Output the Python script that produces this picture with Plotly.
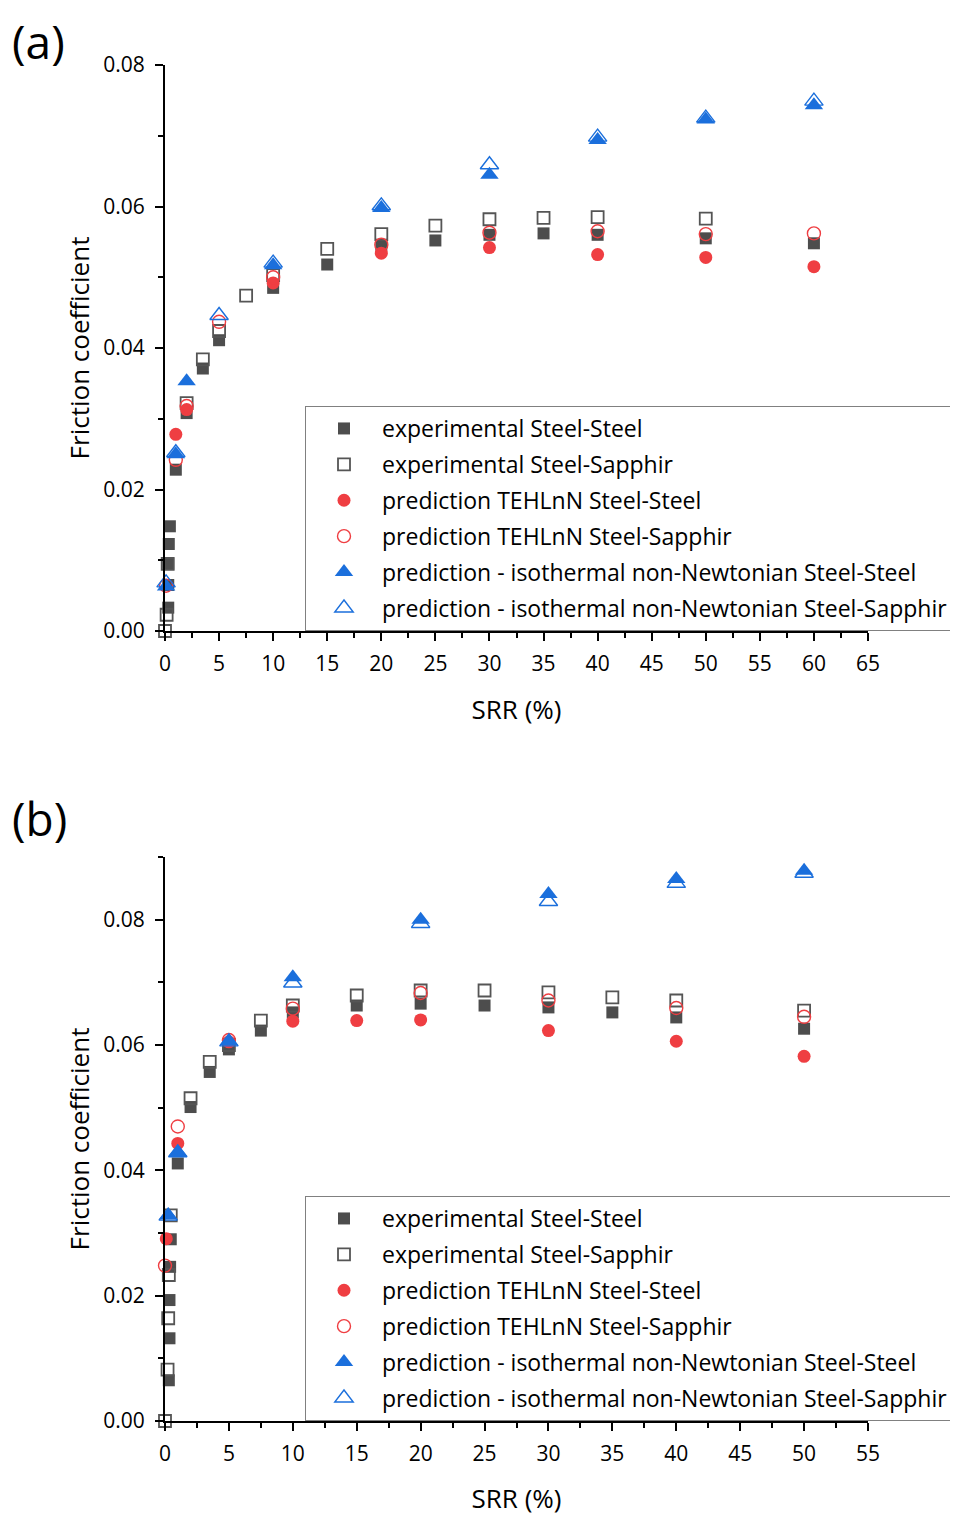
import plotly.graph_objects as go

# ---------------- Panel (a) data ----------------
a_ss_exp_x = [0.3, 0.3, 0.3, 0.35, 0.45, 1, 2, 3.5, 5, 10, 15, 20, 25, 30, 35, 40, 50, 60]
a_ss_exp_y = [0.0033, 0.0065, 0.0095, 0.0123, 0.0148, 0.0228, 0.0308, 0.0371, 0.0411, 0.0485,
              0.0518, 0.0546, 0.0552, 0.0560, 0.0562, 0.0560, 0.0555, 0.0548]
a_sa_exp_x = [0, 0.15, 0.25, 2, 3.5, 5, 7.5, 10, 15, 20, 25, 30, 35, 40, 50]
a_sa_exp_y = [0.0, 0.0023, 0.0095, 0.0322, 0.0384, 0.0424, 0.0474, 0.0503, 0.0540, 0.0561,
              0.0573, 0.0582, 0.0584, 0.0585, 0.0583]
a_ss_teh_x = [1, 2, 10, 20, 30, 40, 50, 60]
a_ss_teh_y = [0.0278, 0.0313, 0.0492, 0.0534, 0.0542, 0.0532, 0.0528, 0.0515]
a_sa_teh_x = [0.1, 1, 2, 5, 10, 20, 30, 40, 50, 60]
a_sa_teh_y = [0.0064, 0.0242, 0.0318, 0.0437, 0.0500, 0.0546, 0.0563, 0.0565, 0.0561, 0.0562]
a_ss_iso_x = [0.1, 1, 2, 10, 20, 30, 40, 50, 60]
a_ss_iso_y = [0.0063, 0.0250, 0.0353, 0.0517, 0.0598, 0.0645, 0.0694, 0.0723, 0.0743]
a_sa_iso_x = [0.1, 1, 5, 10, 20, 30, 40, 50, 60]
a_sa_iso_y = [0.0068, 0.0252, 0.0446, 0.0520, 0.0601, 0.0659, 0.0698, 0.0725, 0.0749]

# ---------------- Panel (b) data ----------------
b_ss_exp_x = [0.3, 0.35, 0.35, 0.4, 0.45, 1, 2, 3.5, 5, 7.5, 10, 15, 20, 25, 30, 35, 40, 50]
b_ss_exp_y = [0.0065, 0.0132, 0.0193, 0.0246, 0.0290, 0.0411, 0.0501, 0.0557, 0.0593, 0.0623,
              0.0652, 0.0663, 0.0666, 0.0663, 0.0660, 0.0652, 0.0644, 0.0626]
b_sa_exp_x = [0, 0.2, 0.25, 0.3, 0.45, 2, 3.5, 5, 7.5, 10, 15, 20, 25, 30, 35, 40, 50]
b_sa_exp_y = [0.0, 0.0082, 0.0164, 0.0233, 0.0328, 0.0515, 0.0573, 0.0600, 0.0639, 0.0663,
              0.0679, 0.0687, 0.0687, 0.0684, 0.0676, 0.0671, 0.0655]
b_ss_teh_x = [0.1, 1, 5, 10, 15, 20, 30, 40, 50]
b_ss_teh_y = [0.0291, 0.0443, 0.0605, 0.0638, 0.0639, 0.0640, 0.0623, 0.0606, 0.0582]
b_sa_teh_x = [0, 1, 5, 10, 20, 30, 40, 50]
b_sa_teh_y = [0.0248, 0.0470, 0.0608, 0.0658, 0.0683, 0.0671, 0.0659, 0.0645]
b_ss_iso_x = [0.25, 1, 5, 10, 20, 30, 40, 50]
b_ss_iso_y = [0.0328, 0.0429, 0.0606, 0.0708, 0.0800, 0.0841, 0.0865, 0.0878]
b_sa_iso_x = [0.25, 1, 5, 10, 20, 30, 40, 50]
b_sa_iso_y = [0.0327, 0.0428, 0.0605, 0.0699, 0.0794, 0.0829, 0.0858, 0.0874]

names = ["experimental Steel-Steel", "experimental Steel-Sapphir",
         "prediction TEHLnN Steel-Steel", "prediction TEHLnN Steel-Sapphir",
         "prediction - isothermal non-Newtonian Steel-Steel",
         "prediction - isothermal non-Newtonian Steel-Sapphir"]

GRAY = "#4d4d4d"
GRAY_OPEN = "#555555"
RED = "#EF3E42"
BLUE = "#1B6FDC"

styles = [
    dict(symbol="square", size=12, color=GRAY, line=dict(width=0)),
    dict(symbol="square-open", size=12, color=GRAY_OPEN, line=dict(width=1.8)),
    dict(symbol="circle", size=13, color=RED, line=dict(width=0)),
    dict(symbol="circle-open", size=13, color=RED, line=dict(width=1.4)),
    dict(symbol="triangle-up", size=16, color=BLUE, line=dict(width=0)),
    dict(symbol="triangle-up-open", size=16, color=BLUE, line=dict(width=1.4)),
]

panel_a = [(a_ss_exp_x, a_ss_exp_y), (a_sa_exp_x, a_sa_exp_y), (a_ss_teh_x, a_ss_teh_y),
           (a_sa_teh_x, a_sa_teh_y), (a_ss_iso_x, a_ss_iso_y), (a_sa_iso_x, a_sa_iso_y)]
panel_b = [(b_ss_exp_x, b_ss_exp_y), (b_sa_exp_x, b_sa_exp_y), (b_ss_teh_x, b_ss_teh_y),
           (b_sa_teh_x, b_sa_teh_y), (b_ss_iso_x, b_ss_iso_y), (b_sa_iso_x, b_sa_iso_y)]

fig = go.Figure()
for i, (x, y) in enumerate(panel_a):
    fig.add_trace(go.Scatter(x=x, y=y, mode="markers", name=names[i], marker=styles[i],
                             xaxis="x", yaxis="y", legend="legend",
                             legendgroup=f"a{i}", cliponaxis=False))
for i, (x, y) in enumerate(panel_b):
    fig.add_trace(go.Scatter(x=x, y=y, mode="markers", name=names[i], marker=styles[i],
                             xaxis="x2", yaxis="y2", legend="legend2",
                             legendgroup=f"b{i}", cliponaxis=False))

# page body has an 8 px margin: figure is offset by 8 px; it is made wide enough
# that the legend box runs past the right edge of the window, as in the reference
OFF = 8
W, H = 966, 1516 - OFF
FONT = "Open Sans"

def px_x(p):
    return (p - OFF) / W

def px_y(p):
    return 1 - (p - OFF) / H

xdom = [px_x(165), px_x(868)]
ya_dom = [px_y(631), px_y(65)]
yb_dom = [px_y(1421), px_y(857)]

def xaxis(rng, dom, anchor):
    return dict(domain=dom, range=rng, anchor=anchor, dtick=5, tick0=0, automargin=False,
                showline=True, linecolor="black", linewidth=2, mirror=False,
                ticks="outside", ticklen=8, tickwidth=2, tickcolor="black",
                minor=dict(dtick=2.5, ticklen=5, tickwidth=2, tickcolor="black", ticks="outside"),
                showgrid=False, zeroline=False, ticklabelstandoff=5,
                tickfont=dict(family=FONT, size=21, color="black"),
                title=dict(text="SRR (%)", font=dict(family=FONT, size=26, color="black"), standoff=25))

def yaxis(rng, dom, anchor):
    return dict(domain=dom, range=rng, anchor=anchor, dtick=0.02, tick0=0, tickformat=".2f",
                automargin=False,
                showline=True, linecolor="black", linewidth=2,
                ticks="outside", ticklen=8, tickwidth=2, tickcolor="black",
                minor=dict(dtick=0.01, ticklen=5, tickwidth=2, tickcolor="black", ticks="outside"),
                showgrid=False, zeroline=False, ticklabelstandoff=6,
                tickfont=dict(family=FONT, size=21, color="black"),
                title=dict(text="Friction coefficient", font=dict(family=FONT, size=26, color="black"), standoff=6))

legend_style = dict(font=dict(family=FONT, size=23.0, color="black"), bgcolor="white",
                    bordercolor="#808080", borderwidth=1, xanchor="left", yanchor="top",
                    itemwidth=66, tracegroupgap=3, itemclick=False)

fig.update_layout(
    width=W, height=H, margin=dict(l=0, r=0, t=0, b=0, autoexpand=False),
    paper_bgcolor="white", plot_bgcolor="white",
    font=dict(family=FONT, color="black"),
    xaxis=xaxis([0, 65], xdom, "y"),
    yaxis=yaxis([0, 0.08], ya_dom, "x"),
    xaxis2=xaxis([0, 55], xdom, "y2"),
    yaxis2=yaxis([0, 0.09], yb_dom, "x2"),
    legend=dict(x=px_x(305), y=px_y(406), **legend_style),
    legend2=dict(x=px_x(305), y=px_y(1196), **legend_style),
    annotations=[
        dict(text="(a)", x=px_x(10), y=1.0, xref="paper", yref="paper", xanchor="left",
             yanchor="top", showarrow=False, font=dict(family=FONT, size=46, color="black")),
        dict(text="(b)", x=px_x(10), y=px_y(785), xref="paper", yref="paper", xanchor="left",
             yanchor="top", showarrow=False, font=dict(family=FONT, size=46, color="black")),
    ],
)

fig.write_html("out.html")
